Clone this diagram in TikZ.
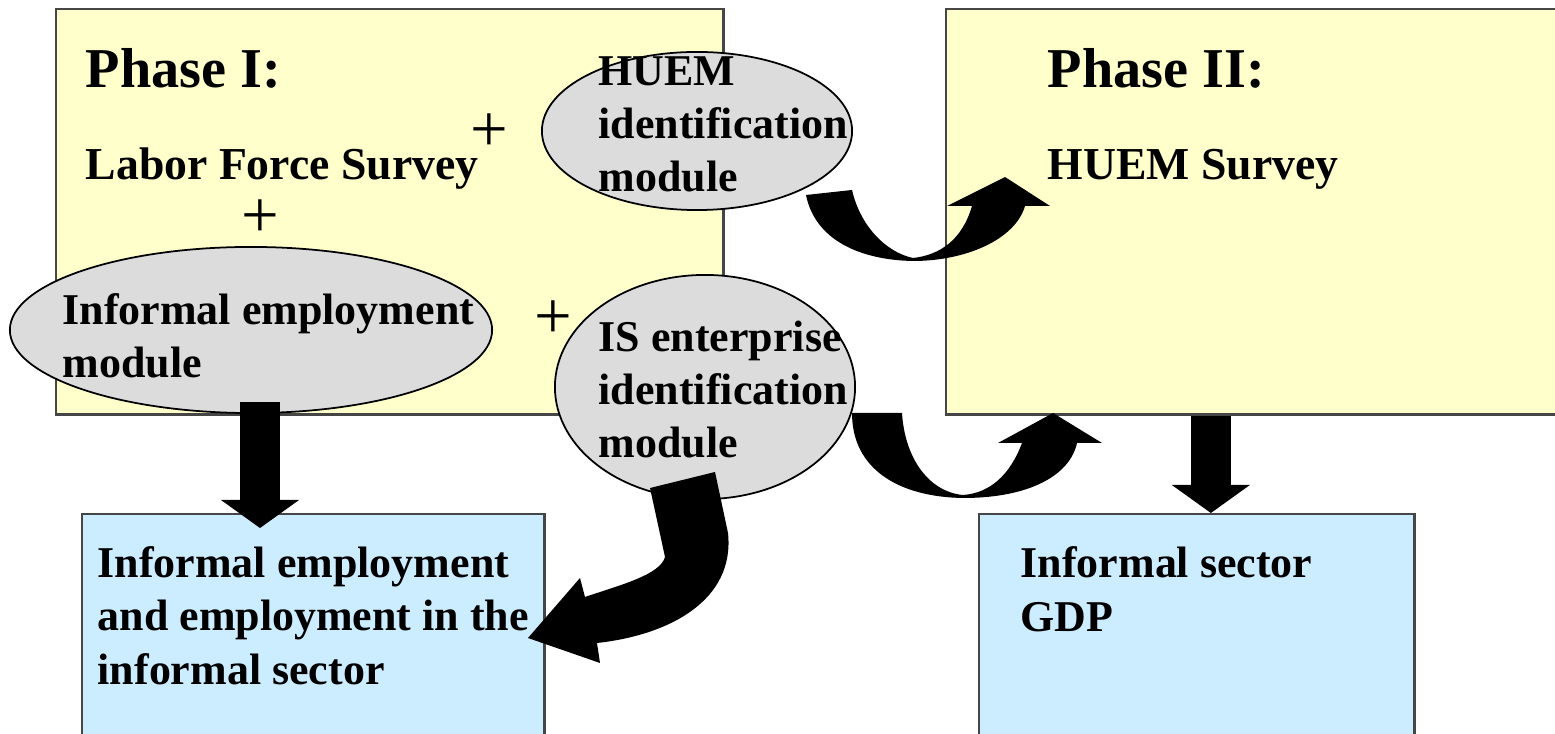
\documentclass[tikz,border=0pt]{standalone}
\usepackage{fontspec}
\setmainfont{Liberation Serif}
\usetikzlibrary{arrows.meta,shapes.geometric}

\definecolor{phasebg}{RGB}{255,255,204}
\definecolor{outbg}{RGB}{204,236,255}
\definecolor{modbg}{RGB}{220,220,220}
\definecolor{rim}{RGB}{70,70,70}

\tikzset{
  phase/.style={draw=rim, fill=phasebg, line width=0.7pt, anchor=north west, inner sep=0pt},
  output/.style={draw=rim, fill=outbg, line width=0.7pt, anchor=north west, inner sep=0pt},
  module/.style={draw=black, fill=modbg, ellipse, line width=0.5pt, inner sep=0pt},
  % multi-line labels sit on the baseline of their last line
  txt/.style={anchor=base west, align=left, inner sep=0pt,
    font=\bfseries\fontsize{12.5}{15.1}\selectfont},
  head/.style={anchor=base west, inner sep=0pt, font=\bfseries\fontsize{16}{18}\selectfont},
  plus/.style={inner sep=0pt, font=\fontsize{19}{20}\selectfont},
  fat/.style={line width=0.4cm, -{Triangle[length=0.28cm, width=0.78cm, line width=0pt]}},
  bentarrow/.style={fill=black},
}

\begin{document}
\begin{tikzpicture}[x=0.01cm, y=-0.01cm]
  \useasboundingbox (0,0) rectangle (1555,734);
  \clip (0,0) rectangle (1555,734);

  % boxes
  \node[phase, minimum width=6.67cm, minimum height=4.05cm] (ph1) at (55,8) {};
  \node[phase, minimum width=6.2cm, minimum height=4.05cm] (ph2) at (945,8) {};
  \node[output, minimum width=4.62cm, minimum height=2.4cm] (iebox) at (81,513) {};
  \node[output, minimum width=4.35cm, minimum height=2.4cm] (gdp) at (978,513) {};

  % HUEM module -> phase II (under the ellipse)
  \path[bentarrow] (806,195) .. controls (815,240) and (860,260) .. (913,261)
    .. controls (965,261) and (1015,240) .. (1025,206)
    -- (1050,206) -- (1005,177) -- (947,206) -- (972,206)
    .. controls (962,240) and (940,255) .. (913,258)
    .. controls (885,252) and (860,225) .. (852,190) -- cycle;

  % modules
  \node[module, minimum width=3.1cm, minimum height=1.58cm] (huem) at (697,131) {};
  \node[module, minimum width=4.82cm, minimum height=1.66cm] (iemod) at (251,330) {};
  \draw[fat, shorten >=-0.15cm] ([xshift=0.09cm, yshift=0.12cm]iemod.south)
    -- ([xshift=0.09cm]iemod.south |- iebox.north);
  \node[module, minimum width=3.0cm, minimum height=2.24cm] (ismod) at (705,387) {};

  % IS module -> phase II
  \path[bentarrow] (852,413) .. controls (852,470) and (900,497) .. (963,498)
    .. controls (1030,498) and (1070,475) .. (1077,443)
    -- (1102,443) -- (1053,413) -- (998,443) -- (1022,443)
    .. controls (1010,475) and (990,493) .. (963,495)
    .. controls (930,492) and (905,460) .. (902,413) -- cycle;

  % IS module -> informal employment
  \path[bentarrow] (650,488) -- (715,472) -- (728,533)
    .. controls (735,600) and (670,635) .. (597,643)
    -- (600,663) -- (528,638) -- (580,578) -- (585,597)
    .. controls (620,585) and (660,575) .. (665,557) -- cycle;

  % phase II -> GDP
  \draw[fat] ([xshift=0.14cm]gdp.north |- ph2.south) -- ([xshift=0.14cm]gdp.north);

  % labels
  \node[head] (t1) at (85,88) {Phase I:};
  \node[txt, font=\bfseries\fontsize{13}{15}\selectfont] (lfs) at (85,180) {Labor Force Survey};
  \node[plus] (p1) at (489,133) {+};
  \node[plus] (p2) at (260,219) {+};
  \node[plus] (p3) at (553,320) {+};
  \node[txt] (huemtxt) at (598,192) {HUEM\\identification\\module};
  \node[txt] (iemtxt) at (62,378) {Informal employment\\module};
  \node[txt] (istxt) at (598,458) {IS enterprise\\identification\\module};
  \node[head] (t2) at (1047,88) {Phase II:};
  \node[txt, font=\bfseries\fontsize{13}{15}\selectfont] (hs) at (1047,180) {HUEM Survey};
  \node[txt] (ietxt) at (97,684) {Informal employment\\and employment in the\\informal sector};
  \node[txt] (gdptxt) at (1020,631) {Informal sector\\GDP};
\end{tikzpicture}
\end{document}
